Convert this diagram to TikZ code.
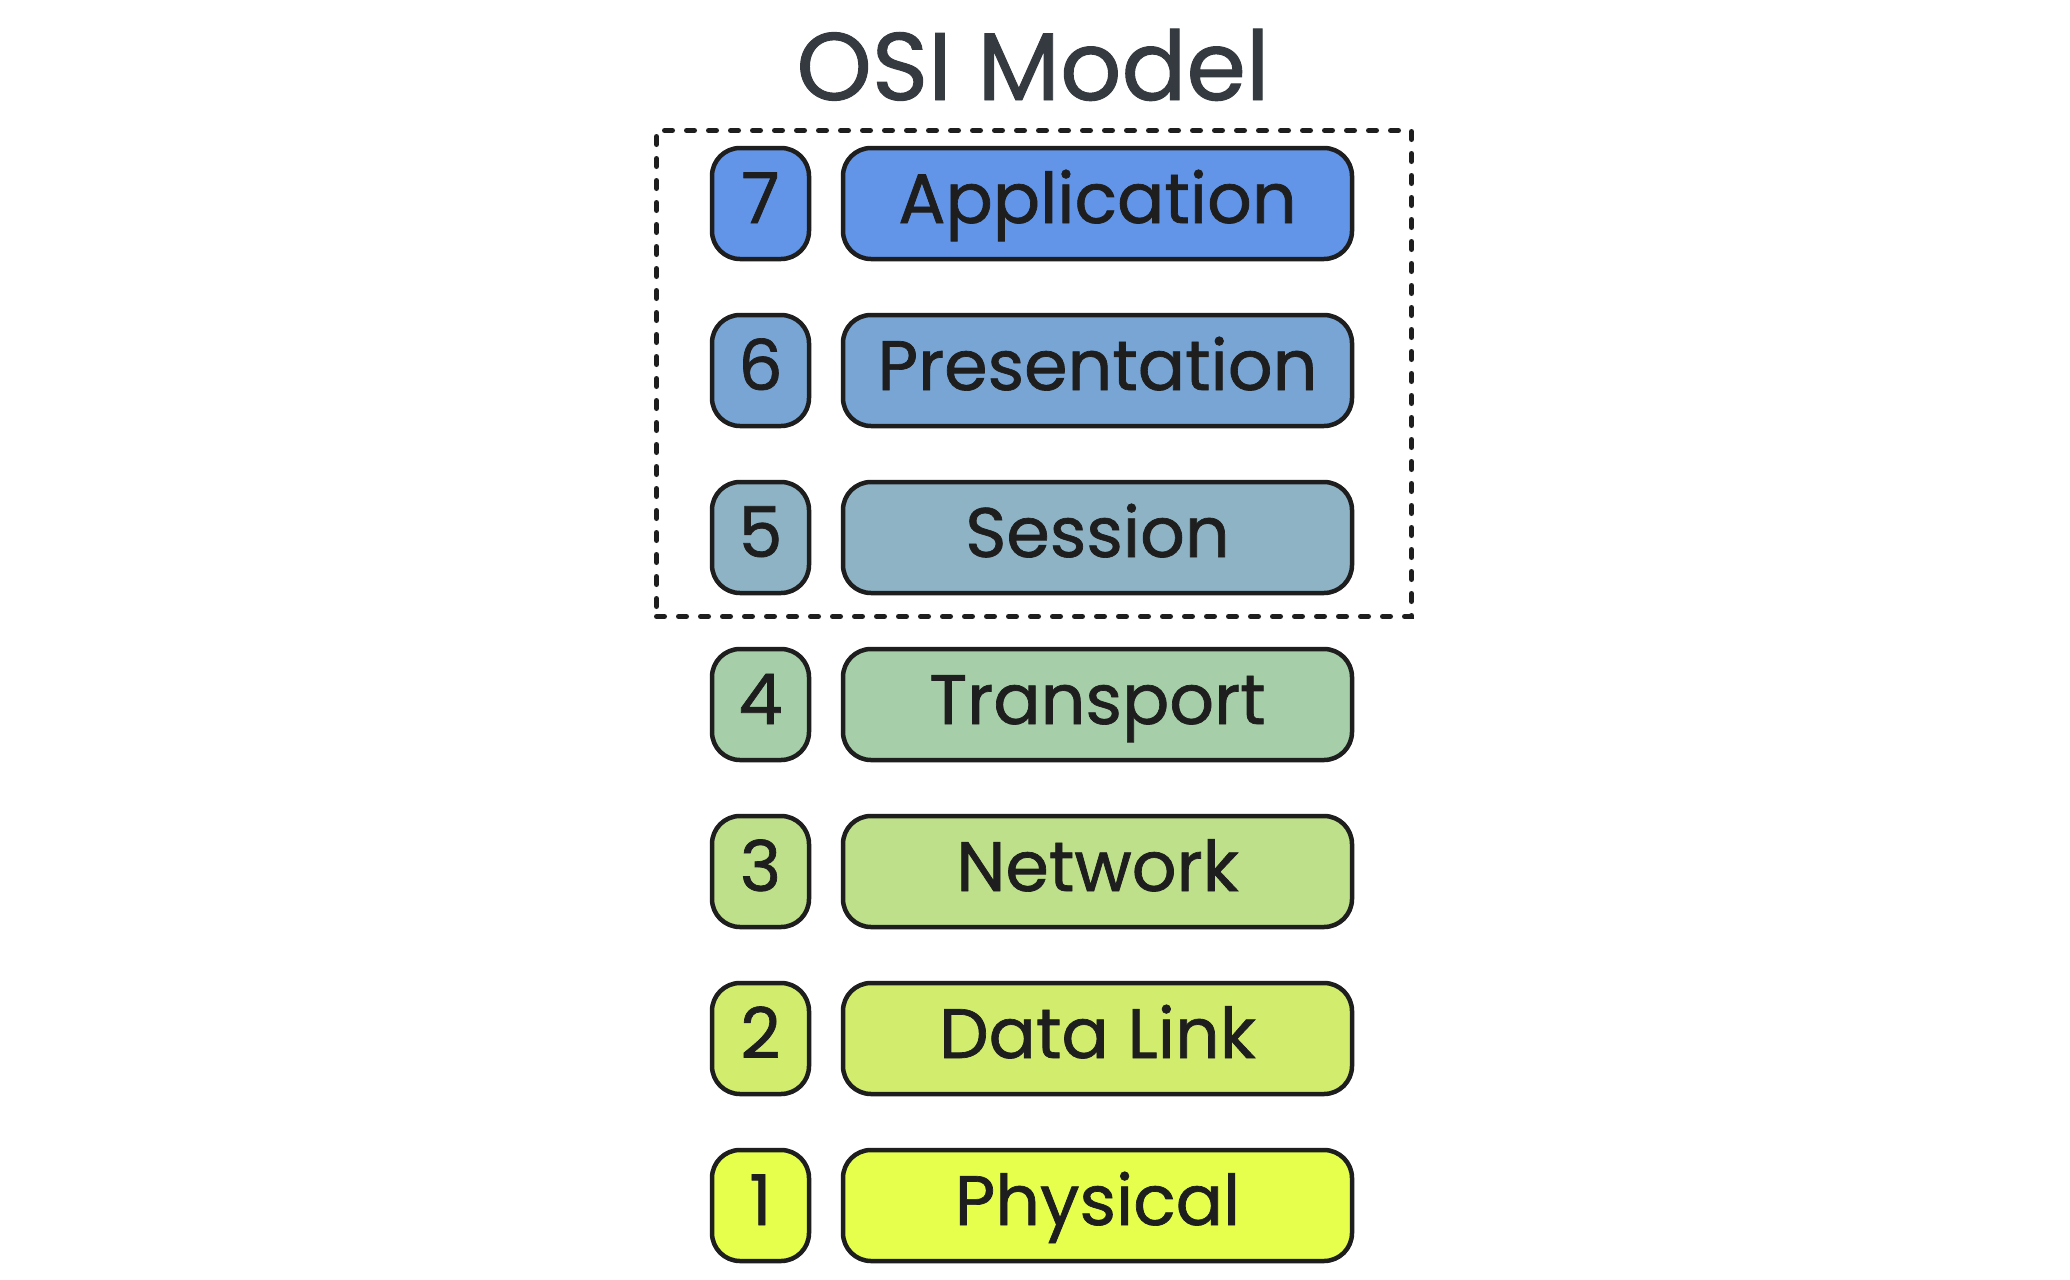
\documentclass[tikz,border=0pt]{standalone}
\usepackage{fontspec}
\setmainfont{Poppins}[FakeBold=1]
\usetikzlibrary{positioning}
\definecolor{ink}{HTML}{1E1E1E}
\definecolor{titleink}{HTML}{343A40}
\definecolor{c7}{HTML}{6294E8}
\definecolor{c6}{HTML}{78A5D4}
\definecolor{c5}{HTML}{8EB3C4}
\definecolor{c4}{HTML}{A6CEA8}
\definecolor{c3}{HTML}{BEE08A}
\definecolor{c2}{HTML}{D2ED6E}
\definecolor{c1}{HTML}{E6FF4C}
\tikzset{
  layerbox/.style={draw=ink, line width=4.5pt, rounded corners=28pt,
    minimum height=111pt, inner sep=0pt, text=ink,
    font=\fontsize{70}{70}\selectfont, text height=49pt, text depth=10pt},
  numbox/.style={layerbox, minimum width=97pt},
  namebox/.style={layerbox, minimum width=509pt},
  groupbox/.style={draw=ink, line width=5pt, dash pattern=on 8pt off 14pt,
    line cap=round, minimum width=755pt, minimum height=486pt, inner sep=0pt},
  titletext/.style={text=titleink, font=\fontsize{96}{96}\selectfont, anchor=base, inner sep=0pt}
}
\begin{document}
\begin{tikzpicture}[x=1pt,y=-1pt]
\useasboundingbox (0,0) rectangle (2070,1280);
\fill[white] (0,0) rectangle (2070,1280);
\node[titletext] (title) at (1033,100) {OSI Model};
\node[groupbox] (group) at (1034,373.5) {};
\node[numbox, fill=c7] (n7) at (760.5,203.5) {7};
\node[namebox, fill=c7] (l7) at (1097.5,203.5) {Application};
\node[numbox, fill=c6] (n6) at (760.5,370.5) {6};
\node[namebox, fill=c6] (l6) at (1097.5,370.5) {Presentation};
\node[numbox, fill=c5] (n5) at (760.5,537.5) {5};
\node[namebox, fill=c5] (l5) at (1097.5,537.5) {Session};
\node[numbox, fill=c4] (n4) at (760.5,704.5) {4};
\node[namebox, fill=c4] (l4) at (1097.5,704.5) {Transport};
\node[numbox, fill=c3] (n3) at (760.5,871.5) {3};
\node[namebox, fill=c3] (l3) at (1097.5,871.5) {Network};
\node[numbox, fill=c2] (n2) at (760.5,1038.5) {2};
\node[namebox, fill=c2] (l2) at (1097.5,1038.5) {Data Link};
\node[numbox, fill=c1] (n1) at (760.5,1205.5) {1};
\node[namebox, fill=c1] (l1) at (1097.5,1205.5) {Physical};
\end{tikzpicture}
\end{document}
